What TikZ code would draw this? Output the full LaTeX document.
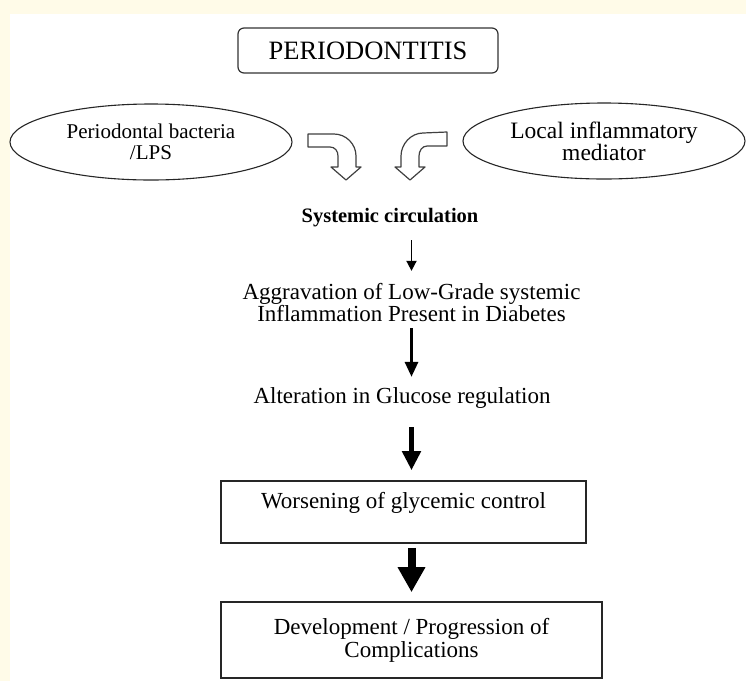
\documentclass[tikz,border=0pt]{standalone}
\usepackage{fontspec}
\setmainfont{Liberation Serif}
\usetikzlibrary{arrows.meta,shapes.geometric}

\definecolor{cream}{RGB}{255,251,232}
\newcommand*{\pagew}{746}
\newcommand*{\pageh}{681}

\begin{document}
\begin{tikzpicture}
[
	x=1pt, y=-1pt,
	plain/.style={inner sep=0pt,font=\fontsize{23}{22.5}\selectfont,align=center},
	titlebox/.style={draw=black!80,line width=1.2pt,rounded corners=6pt,inner sep=0pt,
		minimum width=260pt,minimum height=45pt,font=\fontsize{26.5}{28}\selectfont},
	oval/.style={ellipse,draw=black!85,line width=1.1pt,inner sep=0pt,align=center,
		minimum width=282pt,minimum height=76pt},
	stepbox/.style={draw=black!85,line width=1.6pt,inner xsep=0pt,align=center,
		font=\fontsize{23}{23}\selectfont},
	bent/.style={draw=black!75,line width=1.2pt,fill=white,line join=round},
	arrA/.style={line width=1.8pt,-{Triangle[length=10pt,width=10pt]}},
	arrB/.style={line width=3pt,-{Triangle[length=15pt,width=13pt]}},
	arrC/.style={line width=5.5pt,-{Triangle[length=19pt,width=18pt]}},
	arrD/.style={line width=8pt,-{Triangle[length=25pt,width=26pt]}}
]

	% page
	\useasboundingbox (0,0) rectangle (\pagew,\pageh);
	\fill[cream] (0,0) rectangle (\pagew,\pageh);
	\fill[white] (10,14) rectangle (\pagew,\pageh);

	% top of the chart
	\node[titlebox] at (368,50.5) (perio) {PERIODONTITIS};
	\node[oval,font=\fontsize{21}{21}\selectfont] at (151,142) (bact) {Periodontal bacteria\\/LPS};
	\node[oval,font=\fontsize{23.5}{22}\selectfont] at (604,141) (medi) {Local inflammatory\\mediator};

	% bent arrows
	\draw[bent] (308,134) -- (334,134) .. controls (346,134) and (356,144) .. (356,156)
		-- (356,167) -- (361,167) -- (346,180) -- (331,167) -- (338,167) -- (338,156)
		.. controls (338,151) and (335,147) .. (330,147) -- (308,147) -- cycle;
	\draw[bent] (447,132) -- (423,133) .. controls (411,133) and (401,144) .. (401,156)
		-- (401,167) -- (395,167) -- (410,180) -- (425,167) -- (419,167) -- (419,156)
		.. controls (419,151) and (422,146) .. (427,146) -- (447,146) -- cycle;

	% chain of steps
	\node[inner sep=0pt,anchor=base,font=\bfseries\fontsize{20.5}{22}\selectfont] at (390,222) (circ) {Systemic circulation};
	\node[plain] at (411.5,302.5) (aggr) {Aggravation of Low-Grade systemic\\Inflammation Present in Diabetes};
	\node[plain,anchor=base] at (402,403) (gluc) {Alteration in Glucose regulation};
	\node[stepbox,minimum width=365pt,inner ysep=0pt,text height=27pt,text depth=35pt] at (403.5,512) (worse) {Worsening of glycemic control};
	\node[stepbox,minimum width=381pt,minimum height=76pt] at (411.5,640) (compl) {Development / Progression of\\Complications};

	% arrows, getting heavier
	\draw[arrA,shorten <=13.5pt,shorten >=12pt] (compl.north |- circ.south) -- (compl.north |- aggr.north);
	\draw[arrB,shorten <=6pt,shorten >=10pt] (compl.north |- aggr.south) -- (compl.north |- gluc.north);
	\draw[arrC,shorten <=19pt,shorten >=10pt] (compl.north |- gluc.south) -- (compl.north |- worse.north);
	\draw[arrD,shorten <=4pt,shorten >=9pt] (compl.north |- worse.south) -- (compl.north);

\end{tikzpicture}
\end{document}
